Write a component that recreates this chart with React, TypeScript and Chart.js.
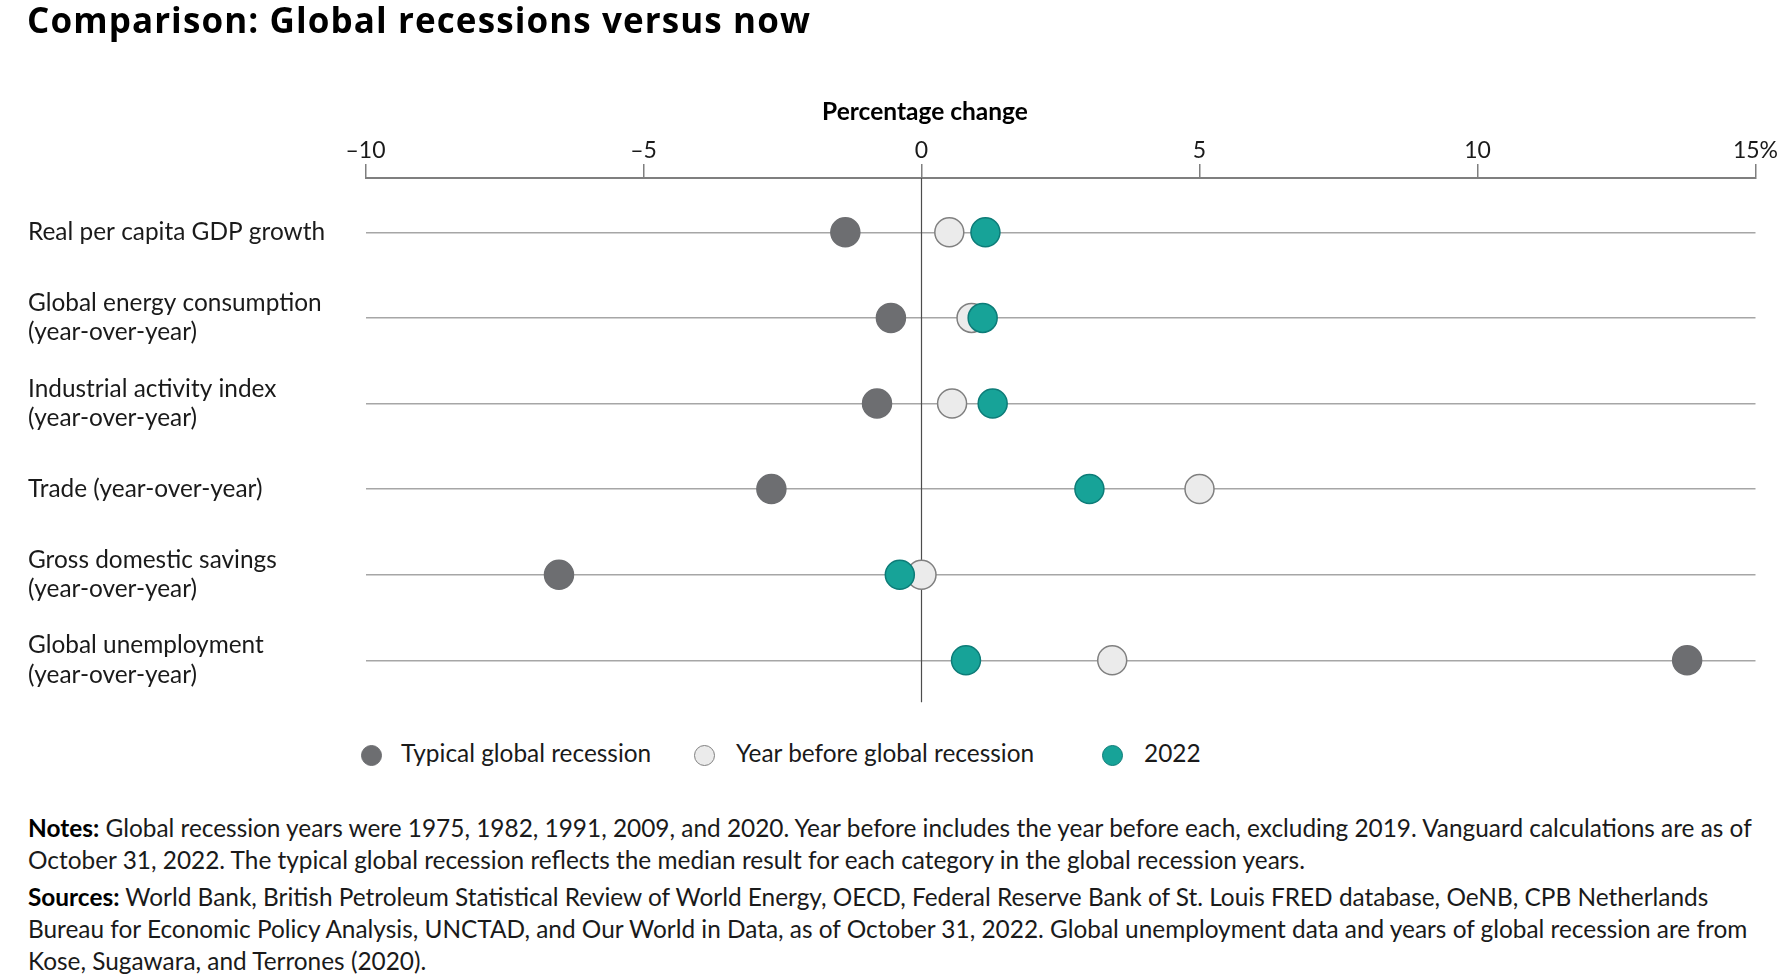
import React, { useEffect, useRef } from "react";
import { Chart, registerables } from "chart.js";

Chart.register(...registerables);

// ---- Data ----
const categories: string[][] = [
  ["Real per capita GDP growth"],
  ["Global energy consumption", "(year-over-year)"],
  ["Industrial activity index", "(year-over-year)"],
  ["Trade (year-over-year)"],
  ["Gross domestic savings", "(year-over-year)"],
  ["Global unemployment", "(year-over-year)"],
];

const typicalRecession = [-1.37, -0.55, -0.8, -2.7, -6.52, 13.77];
const yearBefore = [0.5, 0.9, 0.55, 5.0, 0.0, 3.43];
const year2022 = [1.15, 1.1, 1.28, 3.02, -0.39, 0.8];

const xTickValues = [-10, -5, 0, 5, 10, 15];
const xTickLabels = ["\u201310", "\u20135", "0", "5", "10", "15%"];

const seriesNames = ["Typical global recession", "Year before global recession", "2022"];

const FONT = "Lato, 'Noto Sans', sans-serif";
const TITLE_FONT = "'Open Sans', Lato, sans-serif";
const BODY_SIZE = 24.4;
const DARK = "#6d6e71";
const LIGHT = "#ebebeb";
const LIGHT_BORDER = "#808080";
const TEAL = "#17a398";
const TEAL_BORDER = "#0d7c78";

export default function App() {
  const ref = useRef<HTMLCanvasElement>(null);

  useEffect(() => {
    if (!ref.current) return;
    const zeroLine = {
      id: "zeroLine",
      beforeDatasetsDraw(chart: any) {
        const { ctx, chartArea, scales } = chart;
        const x = scales.x.getPixelForValue(0);
        ctx.save();
        ctx.strokeStyle = "#4d4d4d";
        ctx.lineWidth = 1.2;
        ctx.beginPath();
        ctx.moveTo(x, chartArea.top);
        ctx.lineTo(x, chartArea.bottom);
        ctx.stroke();
        ctx.restore();
      },
    };
    const mk = (arr: number[]) => arr.map((v, i) => ({ x: v, y: i }));
    const chart = new Chart(ref.current, {
      type: "scatter",
      data: {
        datasets: [
          {
            label: seriesNames[0],
            data: mk(typicalRecession),
            backgroundColor: DARK,
            borderColor: DARK,
            pointRadius: 14.5,
            borderWidth: 1.5,
            order: 3,
          },
          {
            label: seriesNames[1],
            data: mk(yearBefore),
            backgroundColor: LIGHT,
            borderColor: LIGHT_BORDER,
            pointRadius: 14.5,
            borderWidth: 1.5,
            order: 2,
          },
          {
            label: seriesNames[2],
            data: mk(year2022),
            backgroundColor: TEAL,
            borderColor: TEAL_BORDER,
            pointRadius: 14.5,
            borderWidth: 1.5,
            order: 1,
          },
        ],
      },
      options: {
        animation: false,
        responsive: true,
        maintainAspectRatio: false,
        events: [],
        layout: { padding: { left: 28, right: 26.5, top: 0, bottom: 16 } },
        plugins: { legend: { display: false }, tooltip: { enabled: false } },
        scales: {
          x: {
            type: "linear",
            position: "top",
            min: -10,
            max: 15,
            afterBuildTicks: (s: any) => {
              s.ticks = xTickValues.map((v) => ({ value: v }));
            },
            afterFit: (s: any) => {
              s.height = 178;
            },
            ticks: {
              callback: (v: any) => xTickLabels[xTickValues.indexOf(Number(v))],
              color: "#1a1a1a",
              font: { size: 23, family: FONT },
              padding: 0,
              maxRotation: 0,
              autoSkip: false,
            },
            grid: {
              drawOnChartArea: false,
              drawTicks: true,
              tickLength: 14,
              color: "#7f7f7f",
              lineWidth: 1.5,
            },
            border: { display: true, color: "#7f7f7f", width: 2 },
          },
          y: {
            type: "linear",
            reverse: true,
            min: -0.634,
            max: 5.49,
            afterBuildTicks: (s: any) => {
              s.ticks = categories.map((_, i) => ({ value: i }));
            },
            afterFit: (s: any) => {
              s.width = 337.5;
            },
            ticks: {
              callback: (v: any) => categories[Number(v)],
              crossAlign: "far",
              color: "#1a1a1a",
              font: { size: BODY_SIZE, family: FONT, lineHeight: 1.21 },
              autoSkip: false,
            },
            grid: { drawTicks: false, color: "#a6a6a6", lineWidth: 1.5 },
            border: { display: false },
          },
        },
      },
      plugins: [zeroLine],
    } as any);
    return () => chart.destroy();
  }, []);

  const legendItems = [
    { cx: 371, tx: 401, bg: DARK, bd: DARK },
    { cx: 704, tx: 736, bg: LIGHT, bd: LIGHT_BORDER },
    { cx: 1112, tx: 1144, bg: TEAL, bd: TEAL_BORDER },
  ];

  const textStyle: React.CSSProperties = {
    position: "absolute",
    fontFamily: FONT,
    fontSize: BODY_SIZE,
    color: "#1a1a1a",
    whiteSpace: "nowrap",
    lineHeight: "32px",
  };

  return (
    <div
      style={{
        position: "fixed",
        left: 0,
        top: 0,
        width: 1782,
        height: 980,
        overflow: "hidden",
        background: "#fff",
        fontFamily: FONT,
      }}
    >
      <div style={{ position: "absolute", left: 0, top: 0, width: 1782, height: 720 }}>
        <canvas ref={ref} />
      </div>
      <div
        style={{
          position: "absolute",
          left: 27,
          top: -1,
          fontFamily: TITLE_FONT,
          fontSize: 35,
          fontWeight: 700,
          letterSpacing: 1.1,
          lineHeight: 1.2,
          color: "#000",
          whiteSpace: "nowrap",
        }}
      >
        Comparison: Global recessions versus now
      </div>
      <div
        style={{
          position: "absolute",
          left: 925,
          top: 96,
          transform: "translateX(-50%)",
          fontSize: 24.5,
          fontWeight: 700,
          lineHeight: 1.2,
          color: "#000",
          whiteSpace: "nowrap",
        }}
      >
        Percentage change
      </div>
      {legendItems.map((it, i) => (
        <React.Fragment key={i}>
          <div
            style={{
              position: "absolute",
              left: it.cx - 10.5,
              top: 755 - 10.5,
              width: 21,
              height: 21,
              boxSizing: "border-box",
              borderRadius: "50%",
              background: it.bg,
              border: `1.5px solid ${it.bd}`,
            }}
          />
          <div style={{ ...textStyle, left: it.tx, top: 755 - 18 }}>{seriesNames[i]}</div>
        </React.Fragment>
      ))}
      <div style={{ ...textStyle, left: 28, top: 812 }}>
        <div>
          <b style={{ color: "#000" }}>Notes:</b> Global recession years were 1975, 1982, 1991, 2009, and
          2020. Year before includes the year before each, excluding 2019. Vanguard calculations are as of
        </div>
        <div>
          October 31, 2022. The typical global recession reflects the median result for each category in the
          global recession years.
        </div>
      </div>
      <div style={{ ...textStyle, left: 28, top: 881 }}>
        <div>
          <b style={{ color: "#000" }}>Sources:</b> World Bank, British Petroleum Statistical Review of World
          Energy, OECD, Federal Reserve Bank of St. Louis FRED database, OeNB, CPB Netherlands
        </div>
        <div>
          Bureau for Economic Policy Analysis, UNCTAD, and Our World in Data, as of October 31, 2022. Global
          unemployment data and years of global recession are from
        </div>
        <div>Kose, Sugawara, and Terrones (2020).</div>
      </div>
    </div>
  );
}
